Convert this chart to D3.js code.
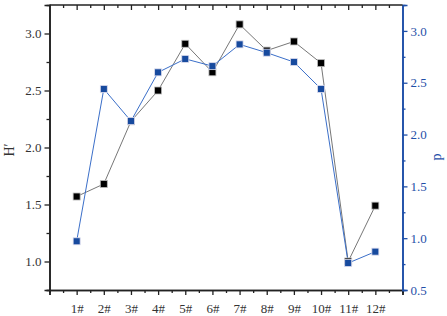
<!DOCTYPE html>
<html><head><meta charset="utf-8">
<script src="https://cdn.jsdelivr.net/npm/d3@7"></script>
<style>body{margin:0;background:#fff}svg{display:block}</style>
</head><body><svg id="c" width="447" height="316"></svg>
<script>
const categories = ["1#","2#","3#","4#","5#","6#","7#","8#","9#","10#","11#","12#"];
const hValues = [1.57,1.68,2.23,2.50,2.91,2.66,3.08,2.85,2.93,2.74,1.00,1.49];
const pValues = [0.97,2.44,2.13,2.60,2.73,2.66,2.87,2.79,2.70,2.44,0.76,0.87];
const leftTicks = [1.0,1.5,2.0,2.5,3.0];
const rightTicks = [0.5,1.0,1.5,2.0,2.5,3.0];

const svg = d3.select("#c");
const L=49.5, R=402.5, T=5, B=290;
const x = d3.scaleLinear().domain([0,13]).range([L,R]);
const yL = d3.scaleLinear().domain([0.75,3.25]).range([B,T]);
const yR = d3.scaleLinear().domain([0.5,3.25]).range([B,T]);
const font = "Liberation Serif";
const black="#222", blue="#1f4fa8";

// bottom axis
const xb = d3.axisBottom(x).tickValues(d3.range(0,14)).tickSize(5).tickFormat(d=> (d>=1&&d<=12)?categories[d-1]:"");
const gb = svg.append("g").attr("transform",`translate(0,${B})`).call(xb);
gb.append("g").call(d3.axisBottom(x).tickValues(d3.range(0.5,13,1)).tickSize(3).tickFormat(""));
// top axis (ticks inward)
const gt = svg.append("g").attr("transform",`translate(0,${T})`).call(d3.axisBottom(x).tickValues(d3.range(1,13)).tickSize(5).tickFormat(""));
gt.append("g").call(d3.axisBottom(x).tickValues(d3.range(0.5,13,1)).tickSize(3).tickFormat(""));
// left axis
const gl = svg.append("g").attr("transform",`translate(${L},0)`).call(d3.axisLeft(yL).tickValues(leftTicks).tickSize(5).tickFormat(d3.format(".1f")));
gl.append("g").call(d3.axisLeft(yL).tickValues([0.75,1.25,1.75,2.25,2.75]).tickSize(3).tickFormat(""));
// right axis
const gr = svg.append("g").attr("transform",`translate(${R},0)`).call(d3.axisRight(yR).tickValues(rightTicks).tickSize(5).tickFormat(d3.format(".1f")));
gr.append("g").call(d3.axisRight(yR).tickValues([0.75,1.25,1.75,2.25,2.75]).tickSize(3).tickFormat(""));

[gb,gt,gl].forEach(g=>{g.selectAll("path,line").attr("stroke",black).attr("stroke-width",1.3);g.selectAll(".domain").attr("stroke-width",1.6);});
gt.selectAll(".domain").remove();
svg.append("line").attr("x1",L).attr("x2",R).attr("y1",T).attr("y2",T).attr("stroke",black).attr("stroke-width",1.6);
gr.selectAll("path,line").attr("stroke",blue).attr("stroke-width",1.3);
gr.selectAll(".domain").attr("stroke-width",1.6);
svg.selectAll("g").attr("font-family",font);
gb.selectAll(".tick text").attr("dy","1.12em");
[gb,gl].forEach(g=>g.selectAll("text").attr("font-family",font).attr("font-size",13).attr("fill","#333"));
gr.selectAll("text").attr("font-family",font).attr("font-size",13).attr("fill",blue);

// axis titles
svg.append("text").attr("transform","translate(14,150) rotate(-90)").attr("text-anchor","middle")
  .attr("font-family",font).attr("font-size",14).attr("fill","#333").text("H′");
svg.append("text").attr("transform","translate(441,157) rotate(-90)").attr("text-anchor","middle")
  .attr("font-family",font).attr("font-size",14).attr("fill",blue).text("p");

// lines
const idx = d3.range(categories.length);
svg.append("path").datum(idx).attr("fill","none").attr("stroke","#777").attr("stroke-width",1)
  .attr("d",d3.line().x(i=>x(i+1)).y(i=>yL(hValues[i])));
svg.append("path").datum(idx).attr("fill","none").attr("stroke","#3b6fc9").attr("stroke-width",1)
  .attr("d",d3.line().x(i=>x(i+1)).y(i=>yR(pValues[i])));
const s=7;
svg.append("g").selectAll("rect").data(idx).join("rect")
  .attr("x",i=>x(i+1)-s/2).attr("y",i=>yL(hValues[i])-s/2).attr("width",s).attr("height",s)
  .attr("fill","#000").attr("stroke","#bbb").attr("stroke-width",0.8);
svg.append("g").selectAll("rect").data(idx).join("rect")
  .attr("x",i=>x(i+1)-s/2).attr("y",i=>yR(pValues[i])-s/2).attr("width",s).attr("height",s)
  .attr("fill","#174a9e").attr("stroke","#dde").attr("stroke-width",0.8);
</script></body></html>
